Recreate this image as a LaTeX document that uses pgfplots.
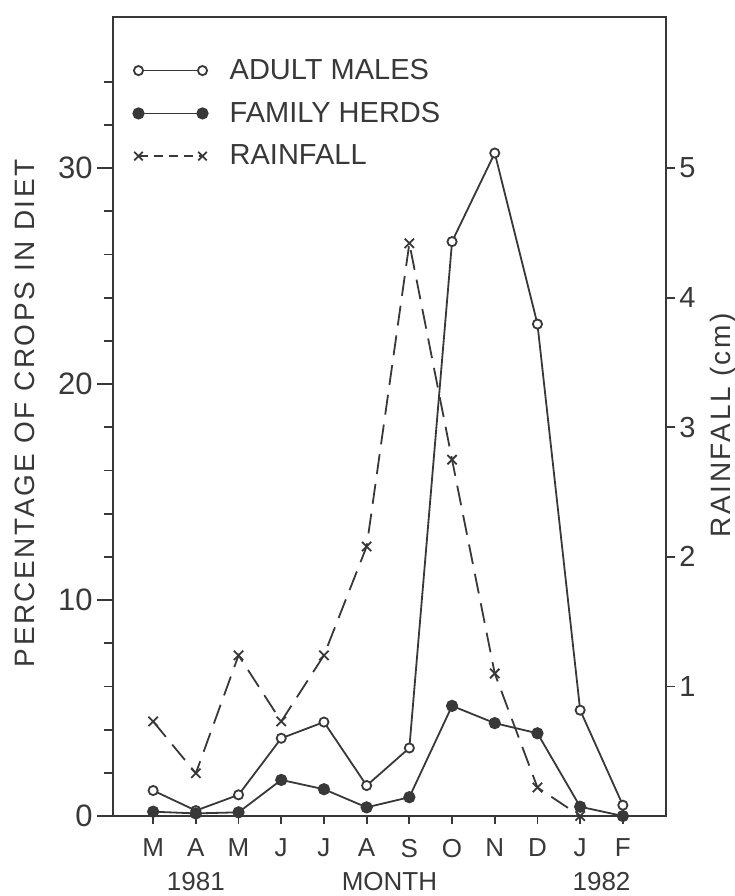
\documentclass[border=0pt]{standalone}
\usepackage{pgfplots}
\pgfplotsset{compat=1.18}
\usepackage{fontspec}
\setmainfont{Liberation Sans}
\newfontfamily\labelfont[LetterSpace=9]{Liberation Sans}
\definecolor{ink}{gray}{0.22}

\pgfplotstableread{
x am fh
0 1.18 0.2
1 0.25 0.12
2 0.98 0.17
3 3.6 1.67
4 4.35 1.24
5 1.41 0.4
6 3.15 0.87
7 26.6 5.1
8 30.7 4.3
9 22.78 3.83
10 4.9 0.43
11 0.5 0.0
}\crops

\pgfplotstableread{
x rain
0 0.73
1 0.33
2 1.24
3 0.73
4 1.24
5 2.08
6 4.42
7 2.75
8 1.10
9 0.22
10 0.0
}\rain

\begin{document}
\begin{tikzpicture}
\path[use as bounding box] (-56.5pt,-40pt) rectangle (311pt,408pt);
\begin{axis}[
  at={(0pt,0pt)}, anchor=south west,
  scale only axis, width=276.5pt, height=399.5pt,
  xmin=-0.94, xmax=12.01, ymin=0, ymax=37,
  axis line style={ink, line width=0.9pt},
  xtick={0,...,11},
  xticklabels={M,A,M,J,J,A,S,O,N,D,J,F},
  ytick={0,10,20,30},
  minor ytick={2,4,...,34},
  tick align=outside, xtick pos=left, ytick pos=left,
  major tick length=8pt, minor tick length=4.5pt,
  xtick style={/pgfplots/major tick length=4pt},
  every tick/.style={ink, line width=0.9pt},
  /pgf/number format/assume math mode=true,
  yticklabel style={font=\fontsize{15.5}{18}\selectfont, text=ink, inner sep=2pt},
  xticklabel style={font=\fontsize{13}{15}\selectfont, text=ink},
  ylabel={\labelfont PERCENTAGE OF CROPS IN DIET},
  ylabel style={at={(axis description cs:-0.159,0.504)}, anchor=center, font=\fontsize{14}{16}\selectfont, text=ink},
  xlabel={MONTH},
  xlabel style={at={(axis description cs:0.5,-0.0826)}, anchor=center, font=\fontsize{13}{15}\selectfont, text=ink},
  legend style={at={(axis description cs:0.036,0.953)}, anchor=north west, draw=none, fill=none,
    font=\fontsize{14.5}{17}\selectfont, text=ink, column sep=9pt, row sep=5.8pt, inner sep=0pt},
  legend cell align=left,
  legend image code/.code={\draw[#1] plot coordinates {(0pt,0pt) (32pt,0pt)};},
  clip=false,
]
\addplot[ink, line width=0.9pt, mark=*, mark size=2.3pt, mark options={fill=white, solid}]
  table[x=x, y=am] {\crops};
\addlegendentry{ADULT MALES}
\addplot[ink, line width=0.9pt, mark=*, mark size=2.6pt, mark options={fill=ink, solid}]
  table[x=x, y=fh] {\crops};
\addlegendentry{FAMILY HERDS}
\addlegendimage{ink, line width=0.9pt, dash pattern=on 4.5pt off 3pt, mark=x, mark size=3pt, mark options={solid}}
\addlegendentry{RAINFALL}
\node[font=\fontsize{13}{15}\selectfont, text=ink] at (axis cs:1,0) [yshift=-33pt] {1981};
\node[font=\fontsize{13}{15}\selectfont, text=ink] at (axis cs:10.5,0) [yshift=-33pt] {1982};
\end{axis}
\begin{axis}[
  at={(0pt,0pt)}, anchor=south west,
  scale only axis, width=276.5pt, height=399.5pt,
  xmin=-0.94, xmax=12.01, ymin=0, ymax=6.1667,
  axis x line=none, axis y line*=right,
  axis line style={ink, line width=0.9pt},
  ytick={1,2,3,4,5},
  tick align=outside, major tick length=4.5pt,
  every tick/.style={ink, line width=0.9pt},
  /pgf/number format/assume math mode=true,
  yticklabel style={font=\fontsize{14.5}{17}\selectfont, text=ink, inner sep=2pt},
  ylabel={\labelfont RAINFALL (cm)},
  ylabel style={at={(axis description cs:1.103,0.489)}, anchor=center, font=\fontsize{14}{16}\selectfont, text=ink},
  clip=false,
]
\addplot[ink, line width=0.9pt, dash pattern=on 10pt off 5pt, mark=x, mark size=3.3pt, mark options={solid}]
  table[x=x, y=rain] {\rain};
\end{axis}
\end{tikzpicture}
\end{document}
